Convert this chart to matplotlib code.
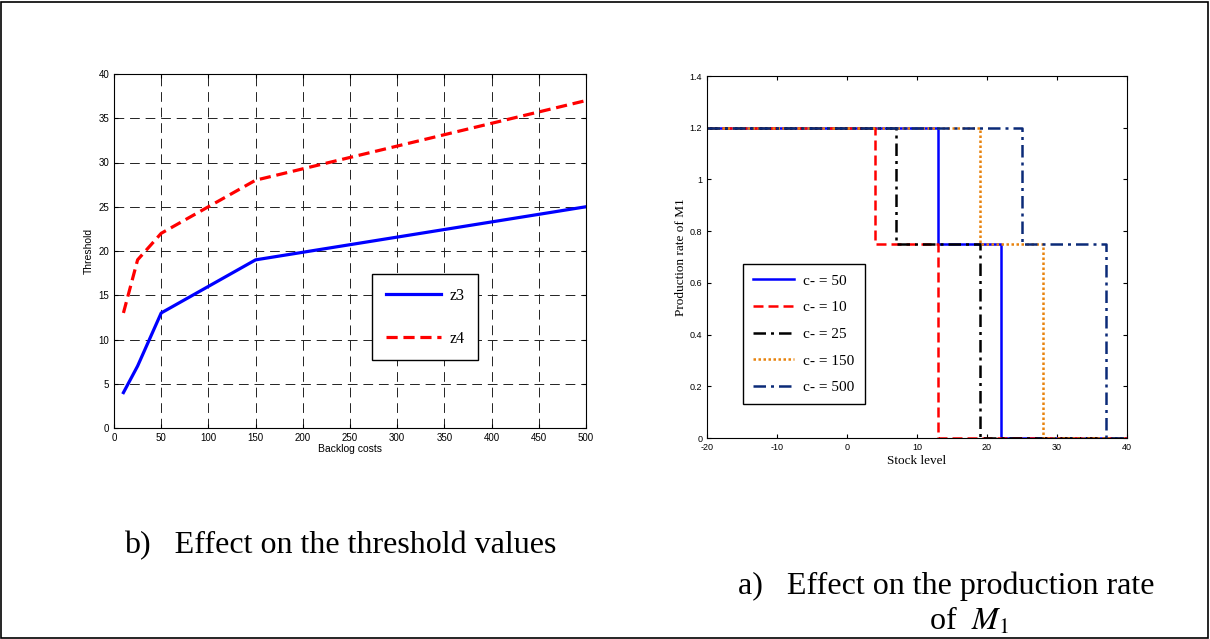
import matplotlib
matplotlib.use("Agg")
import matplotlib.pyplot as plt
from matplotlib.patches import Rectangle

plt.rcParams['axes.unicode_minus'] = False

# left panel: threshold values vs backlog costs
backlog = [10, 25, 50, 150, 500]
z3 = [4, 7, 13, 19, 25]
z4_x = [10, 25, 50, 100, 150, 500]
z4 = [13, 19, 22, 25, 28, 37]

# right panel: hedging thresholds for each backlog cost
c_labels = ['c- = 50', 'c- = 10', 'c- = 25', 'c- = 150', 'c- = 500']
upper_thr = [13, 4, 7, 19, 25]
lower_thr = [22, 13, 19, 28, 37]
rate_hi = 1.2
rate_mid = 0.75
rate_lo = 0.0
stock_min, stock_max = -20, 40

colors = ['#0000ff', '#ff0000', '#000000', '#e8820c', '#0b2a78']
styles = ['-', (0, (4, 2)), (0, (5, 2, 1.2, 2)), (0, (1, 1)), (0, (5, 2, 1.2, 2))]

serif = ['Liberation Serif', 'DejaVu Serif']
sans = ['Liberation Sans', 'DejaVu Sans']

fig = plt.figure(figsize=(12.1, 6.39), dpi=100)
fig.patches.append(Rectangle((0.001, 0.0015), 0.997, 0.996, transform=fig.transFigure,
                             fill=False, edgecolor='black', linewidth=1.2))

W, H = 1210, 639
ax1 = fig.add_axes([114 / W, 1 - 428 / H, (586 - 114) / W, (428 - 74) / H])
ax1.plot(backlog, z3, color='#0000ff', lw=2.3, label='z3')
ax1.plot(z4_x, z4, color='#ff0000', lw=2.3, ls=(0, (3.5, 1.8)), label='z4')
ax1.set_xlim(0, 500)
ax1.set_ylim(0, 40)
ax1.set_xticks(range(0, 501, 50))
ax1.set_yticks(range(0, 41, 5))
ax1.grid(True, color='#222222', ls=(0, (10, 6)), lw=0.7)
ax1.tick_params(direction='in', labelsize=7, top=True, right=True, length=3)
for lb in ax1.get_xticklabels() + ax1.get_yticklabels():
    lb.set_family(sans)
ax1.set_xlabel('Backlog costs', fontsize=7.5, family=sans, labelpad=1)
ax1.set_ylabel('Threshold', fontsize=7.5, family=sans, labelpad=3)
leg1 = ax1.legend(loc='upper left', bbox_to_anchor=((372 - 114) / 472, (428 - 274) / 354),
                  prop={'family': serif, 'size': 11.5},
                  fancybox=False, edgecolor='black', framealpha=1, handlelength=3.5,
                  labelspacing=1.7, borderpad=0.85, handletextpad=0.5, borderaxespad=0)
leg1.get_frame().set_linewidth(1.0)

ax2 = fig.add_axes([707 / W, 1 - 438 / H, (1127 - 707) / W, (438 - 76) / H])
for i in range(len(c_labels)):
    xs = [stock_min, upper_thr[i], lower_thr[i], stock_max]
    ys = [rate_hi, rate_mid, rate_lo, rate_lo]
    ax2.step(xs, ys, where='post', color=colors[i], ls=styles[i], lw=1.8, label=c_labels[i])
ax2.set_xlim(stock_min, stock_max)
ax2.set_ylim(0, 1.4)
ax2.set_xticks(range(-20, 41, 10))
ax2.set_yticks([0, 0.2, 0.4, 0.6, 0.8, 1, 1.2, 1.4])
ax2.set_yticklabels(['0', '0.2', '0.4', '0.6', '0.8', '1', '1.2', '1.4'])
ax2.tick_params(direction='in', labelsize=6.5, top=True, right=True, length=3)
for lb in ax2.get_xticklabels() + ax2.get_yticklabels():
    lb.set_family(sans)
ax2.set_xlabel('Stock level', fontsize=9.5, family=serif, labelpad=2)
ax2.set_ylabel('Production rate of M1', fontsize=9.5, family=serif, labelpad=2)
leg2 = ax2.legend(loc='upper left', bbox_to_anchor=((743 - 707) / 420, (438 - 264) / 362),
                  prop={'family': serif, 'size': 11},
                  fancybox=False, edgecolor='black', framealpha=1, handlelength=2.7,
                  labelspacing=0.85, borderpad=0.65, handletextpad=0.6, borderaxespad=0)
leg2.get_frame().set_linewidth(1.0)

fig.text(124 / W, 1 - 553 / H, 'b)   Effect on the threshold values', fontsize=23,
         family=serif, va='baseline', ha='left')
fig.text(738 / W, 1 - 594 / H, 'a)   Effect on the production rate', fontsize=23,
         family=serif, va='baseline', ha='left')
fig.text(929 / W, 1 - 630 / H, r'of  $M_1$', fontsize=23, family=serif,
         va='baseline', ha='left', math_fontfamily='stix')

fig.savefig('out.png', dpi=100)
